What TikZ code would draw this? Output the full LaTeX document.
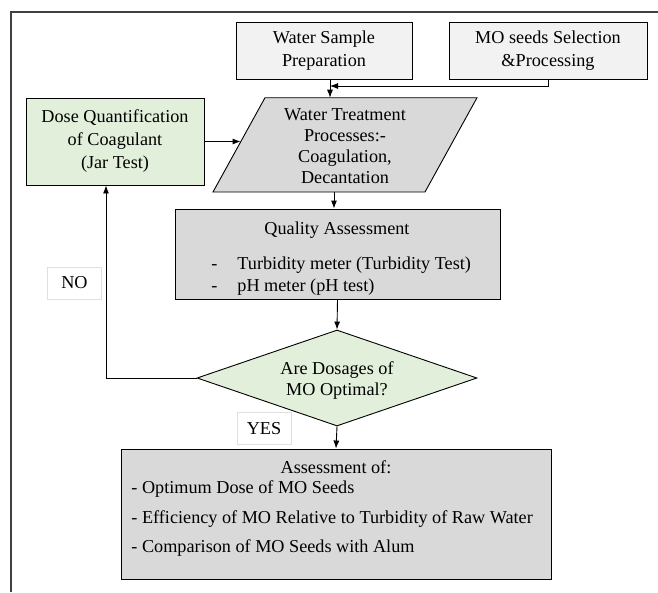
\documentclass[tikz,border=0pt]{standalone}
\usepackage{fontspec}
\setmainfont{Liberation Serif}
\usetikzlibrary{shapes.geometric,calc,arrows.meta}
\definecolor{boxgray}{HTML}{D9D9D9}
\definecolor{topgray}{HTML}{F2F2F2}
\definecolor{decgreen}{HTML}{E2EFDA}
\definecolor{framegray}{HTML}{404040}

\begin{document}
\begin{tikzpicture}[x=1pt, y=-1pt, line width=0.9pt,
    >={Latex[length=8pt,width=6pt]},
    every node/.style={font=\fontsize{18.2}{21}\selectfont},
    topbox/.style={draw, fill=topgray, align=center, minimum height=56.6, inner sep=0},
    greenbox/.style={draw, fill=decgreen, align=center, inner sep=0},
    graybox/.style={draw, fill=boxgray, inner sep=0},
    txt/.style={align=center, inner sep=0},
    lbl/.style={draw=gray!25, line width=0.6pt, minimum width=54, minimum height=32, inner sep=0}]
        \useasboundingbox (0,0) rectangle (658,592);

        % Moldura
        \draw[framegray, line width=1.5pt] (11,592) -- (11,12) -- (658,12);

        % Entradas
        \node[topbox, minimum width=176] (ws) at (324,51) {Water Sample\\[2pt]Preparation};
        \node[topbox, minimum width=198] (mo) at (548,51) {MO seeds Selection\\[2pt]\&Processing};

        % Dosagem
        \node[greenbox, minimum width=178, minimum height=87] (dose) at (115,141.5)
            {Dose Quantification\\[2pt]of Coagulant\\[2pt](Jar Test)};

        % Tratamento
        \draw[graybox] (265,97.7) coordinate (wt-tl) -- (477,97.7) coordinate (wt-tr)
            -- (425,192) coordinate (wt-br) -- (213,192) coordinate (wt-bl) -- cycle;
        \node[txt] (wt) at (345,146) {Water Treatment\\Processes:-\\Coagulation,\\Decantation};
        \coordinate (wt-in) at (330,97.7);
        \coordinate (join) at (330,86);
        \coordinate (wt-l) at ($(wt-tl)!0.47!(wt-bl)$);
        \coordinate (wt-out) at (334,192);

        % Qualidade
        \node[graybox, minimum width=325, minimum height=90] (qa) at (337.5,254) {};
        \node[txt, anchor=base] (qa-t) at (337,234) {Quality Assessment};
        \node[txt, anchor=base west] (qa-d1) at (211,269) {-};
        \node[txt, anchor=base west] (qa-1) at (237,269) {Turbidity meter (Turbidity Test)};
        \node[txt, anchor=base west] (qa-d2) at (211,291) {-};
        \node[txt, anchor=base west] (qa-2) at (237,291) {pH meter (pH test)};

        % Decisao
        \node[shape=diamond, draw, fill=decgreen, minimum width=280, minimum height=96,
            aspect=2.92, inner sep=0] (dec) at (337,378) {};
        \node[txt] (dec-t) at (337,381) {Are Dosages of\\MO Optimal?};

        % Resultado
        \node[graybox, minimum width=430, minimum height=130] (res) at (336,514) {};
        \node[txt, anchor=base] (res-t) at (336,473) {Assessment of:};
        \node[txt, anchor=base west] (res-1) at (131,493) {- Optimum Dose of MO Seeds};
        \node[txt, anchor=base west] (res-2) at (131,523) {- Efficiency of MO Relative to Turbidity of Raw Water};
        \node[txt, anchor=base west] (res-3) at (131,552) {- Comparison of MO Seeds with Alum};

        % Rotulos
        \node[lbl] (no) at (74.5,283) {NO};
        \node[lbl] (yes) at (264,428.5) {YES};

        % Setas
        \draw[->] (ws.south -| join) -- (wt-in);
        \draw[->] (mo.south) |- (join);
        \draw[->] (dose.east) -- (dose.east -| wt-l);
        \draw[->] (wt-out) -- (wt-out |- qa.north);
        \draw[->] (qa.south) -- (dec.north);
        \draw[->] (dec.west) -| ([xshift=-9pt]dose.south);
        \draw[->] (dec.south) -- (res.north);
    \end{tikzpicture}
\end{document}
